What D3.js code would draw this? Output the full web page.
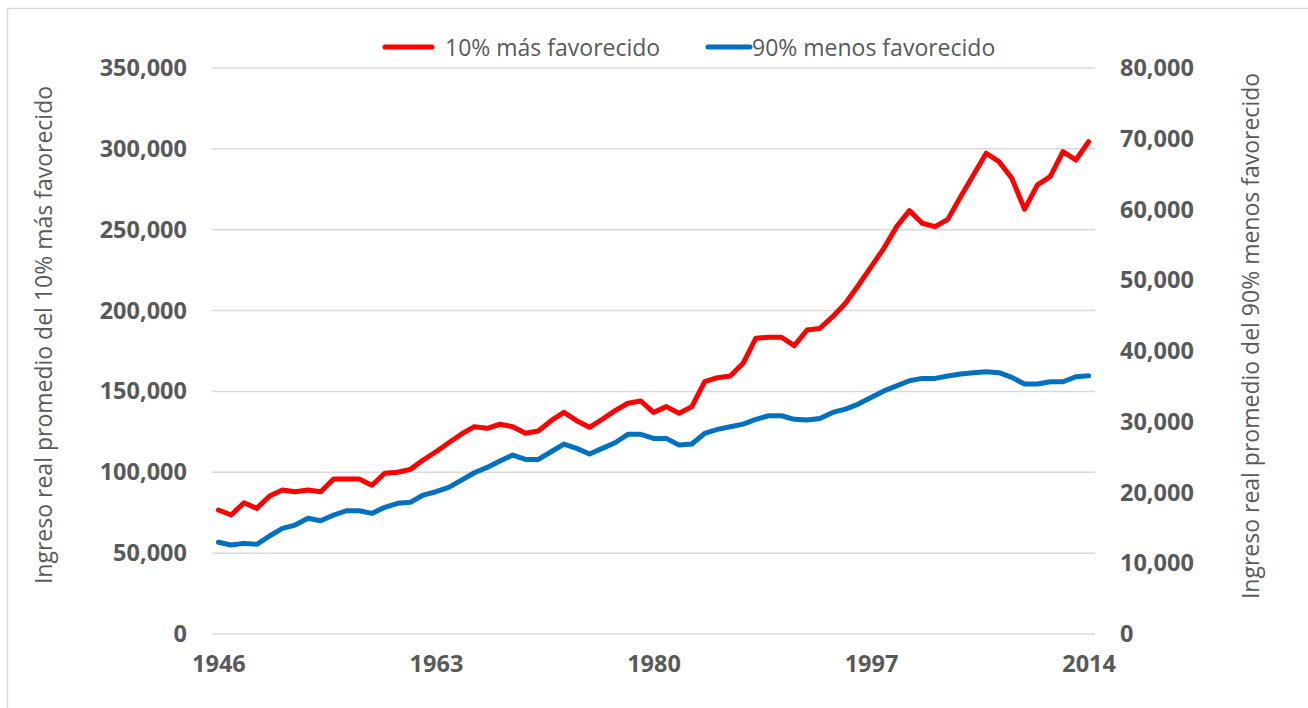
<!DOCTYPE html>
<html>
<head>
<meta charset="utf-8">
<script src="https://cdn.jsdelivr.net/npm/d3@7"></script>
<style>
  html, body { margin: 0; padding: 0; background: #fff; }
  svg { display: block; }
</style>
</head>
<body>
<svg id="chart" width="1308" height="708"></svg>
<script>
const years = d3.range(1946, 2015);
const xTickYears = [1946, 1963, 1980, 1997, 2014];
const leftTicks = [0, 50000, 100000, 150000, 200000, 250000, 300000, 350000];
const rightTicks = [0, 10000, 20000, 30000, 40000, 50000, 60000, 70000, 80000];
const seriesNames = ["10% más favorecido", "90% menos favorecido"];
const top10 = [
  76700, 73600, 81200, 77700, 85300, 89000, 88000, 89000, 88000, 95800,
  95800, 95800, 92000, 99400, 100000, 101800, 107600, 112700, 118300, 123700,
  128200, 127200, 129700, 128200, 124100, 125500, 131900, 137100, 131900, 127800,
  132800, 138100, 142700, 144100, 137000, 140600, 136500, 140600, 156000, 158500,
  159500, 167400, 182900, 183500, 183500, 178300, 188000, 189000, 196200, 204500,
  215500, 227000, 238500, 251900, 261800, 254000, 251900, 256400, 270400, 283800,
  297300, 292100, 281800, 262700, 277700, 282800, 298300, 293100, 304400
];
const bottom90 = [
  12960, 12580, 12810, 12670, 13850, 14930, 15400, 16350, 16010, 16810,
  17420, 17420, 17050, 17900, 18470, 18610, 19640, 20110, 20730, 21760,
  22790, 23550, 24440, 25290, 24680, 24680, 25760, 26850, 26240, 25430,
  26240, 27030, 28220, 28220, 27650, 27650, 26700, 26850, 28360, 28920,
  29300, 29670, 30340, 30850, 30850, 30340, 30240, 30470, 31320, 31790,
  32500, 33440, 34360, 35060, 35800, 36130, 36130, 36460, 36740, 36930,
  37060, 36930, 36270, 35330, 35330, 35650, 35650, 36360, 36500
];
const leftTitle = "Ingreso real promedio del 10% más favorecido";
const rightTitle = "Ingreso real promedio del 90% menos favorecido";

const svg = d3.select("#chart");
const FONT = "'Open Sans', 'Liberation Sans', sans-serif";
const TXT = "#595959";

// outer frame (top & left visible)
svg.append("rect").attr("x", 7.5).attr("y", 8.5).attr("width", 1400).attr("height", 800)
  .attr("fill", "none").attr("stroke", "#d9d9d9").attr("stroke-width", 1.5);

const plotL = 212, plotR = 1095;
const step = (plotR - plotL) / years.length;
const x = d3.scaleLinear().domain([1946, 2014]).range([plotL + step / 2, plotR - step / 2]);
const yL = d3.scaleLinear().domain([0, 350000]).range([634, 68]);
const yR = d3.scaleLinear().domain([0, 80000]).range([634, 68]);
const fmt = d3.format(",");

// gridlines
svg.append("g").selectAll("line").data(leftTicks).join("line")
  .attr("x1", plotL).attr("x2", plotR)
  .attr("y1", d => yL(d)).attr("y2", d => yL(d))
  .attr("stroke", "#d9d9d9").attr("stroke-width", 1.5);

const TICK_FS = 23.5;
// left axis
const gL = svg.append("g").attr("transform", "translate(187,0)")
  .call(d3.axisLeft(yL).tickValues(leftTicks).tickFormat(fmt).tickSize(0).tickPadding(0));
gL.select(".domain").remove();
gL.selectAll("text").attr("font-family", FONT).attr("font-size", TICK_FS).attr("font-weight", "bold").attr("fill", TXT);

// right axis
const gR = svg.append("g").attr("transform", "translate(1120,0)")
  .call(d3.axisRight(yR).tickValues(rightTicks).tickFormat(fmt).tickSize(0).tickPadding(0));
gR.select(".domain").remove();
gR.selectAll("text").attr("font-family", FONT).attr("font-size", TICK_FS).attr("font-weight", "bold").attr("fill", TXT);

// x axis
const gX = svg.append("g").attr("transform", "translate(0,655)")
  .call(d3.axisBottom(x).tickValues(xTickYears).tickFormat(d3.format("d")).tickSize(0).tickPadding(0));
gX.select(".domain").remove();
gX.selectAll("text").attr("font-family", FONT).attr("font-size", TICK_FS).attr("font-weight", "bold").attr("fill", TXT);

// axis titles
svg.append("text").attr("transform", "translate(43,335) rotate(-90)")
  .attr("text-anchor", "middle").attr("dominant-baseline", "central")
  .attr("font-family", FONT).attr("font-size", 23).attr("fill", TXT).text(leftTitle);
svg.append("text").attr("transform", "translate(1250,336) rotate(-90)")
  .attr("text-anchor", "middle").attr("dominant-baseline", "central")
  .attr("font-family", FONT).attr("font-size", 23).attr("fill", TXT).text(rightTitle);

// lines
const lineL = d3.line().x((d, i) => x(years[i])).y(d => yL(d));
const lineR = d3.line().x((d, i) => x(years[i])).y(d => yR(d));
svg.append("path").datum(bottom90).attr("d", lineR).attr("fill", "none")
  .attr("stroke", "#0070C0").attr("stroke-width", 5).attr("stroke-linejoin", "round").attr("stroke-linecap", "round");
svg.append("path").datum(top10).attr("d", lineL).attr("fill", "none")
  .attr("stroke", "#FF0000").attr("stroke-width", 5).attr("stroke-linejoin", "round").attr("stroke-linecap", "round");

// legend
const legendItems = [
  { name: seriesNames[0], color: "#FF0000", x0: 385, x1: 432, tx: 445 },
  { name: seriesNames[1], color: "#0070C0", x0: 708, x1: 750, tx: 752 }
];
const lg = svg.append("g");
legendItems.forEach(it => {
  lg.append("line").attr("x1", it.x0).attr("x2", it.x1).attr("y1", 47).attr("y2", 47)
    .attr("stroke", it.color).attr("stroke-width", 5).attr("stroke-linecap", "round");
  lg.append("text").attr("x", it.tx).attr("y", 47).attr("dominant-baseline", "central")
    .attr("font-family", FONT).attr("font-size", 23).attr("fill", TXT).text(it.name);
});
</script>
</body>
</html>
